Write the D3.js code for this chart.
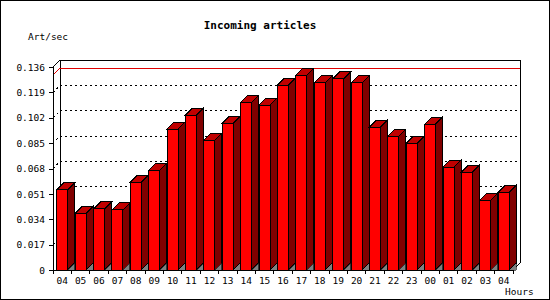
<!DOCTYPE html>
<html>
<head>
<meta charset="utf-8">
<title>Incoming articles</title>
<script src="https://d3js.org/d3.v7.min.js"></script>
<style>
    body { margin: 0; background: #fff; }
    svg { display: block; }
    text { font-family: "DejaVu Sans Mono", monospace; font-size: 9.5px; fill: #000; }
    .title { font-weight: bold; font-size: 11px; }
</style>
</head>
<body>
<div id="chart"></div>
<script>
// Data
var hours = ["04","05","06","07","08","09","10","11","12","13","14","15","16",
             "17","18","19","20","21","22","23","00","01","02","03","04"];
var artPerSec = [0.0537, 0.0380, 0.0409, 0.0403, 0.0588, 0.0669, 0.0944, 0.1038,
                 0.0870, 0.0984, 0.1125, 0.1105, 0.1239, 0.1306, 0.1253, 0.1280,
                 0.1253, 0.0957, 0.0897, 0.0850, 0.0978, 0.0689, 0.0656, 0.0468, 0.0521];
var yTicks = [0, 0.017, 0.034, 0.051, 0.068, 0.085, 0.102, 0.119, 0.136];

var width = 550, height = 300;
var margin = {top: 67, right: 37, bottom: 30, left: 53};
var depth = 7;
var x0 = margin.left, x1 = width - margin.right;
var y0 = height - margin.bottom, y1 = margin.top;

var x = d3.scaleBand().domain(d3.range(hours.length)).range([x0, x1]);
var y = d3.scaleLinear().domain([0, d3.max(yTicks)]).range([y0, y1]);

var svg = d3.select("#chart").append("svg")
    .attr("width", width).attr("height", height)
    .attr("shape-rendering", "crispEdges");

// frame
svg.append("rect").attr("x", 0.5).attr("y", 0.5)
    .attr("width", width - 1.5).attr("height", height - 1.5)
    .attr("fill", "#fff").attr("stroke", "#000");

// back plane
var back = svg.append("g");
back.append("path")
    .attr("d", "M" + x0 + "," + y1 + "L" + (x0 + depth) + "," + (y1 - depth) +
               "L" + (x1 + depth) + "," + (y1 - depth) + "L" + (x1 + depth) + "," + (y0 - depth) +
               "L" + x1 + "," + y0)
    .attr("fill", "none").attr("stroke", "#000");
back.append("line")
    .attr("x1", x0 + depth).attr("x2", x0 + depth)
    .attr("y1", y1 - depth).attr("y2", y0 - depth)
    .attr("stroke", "#000");

// grid lines (dotted) on the back plane
back.selectAll(".grid").data(yTicks.slice(1, -1)).enter().append("path")
    .attr("class", "grid")
    .attr("d", function(d) {
        return "M" + x0 + "," + y(d) + "L" + (x0 + depth) + "," + (y(d) - depth) +
               "L" + (x1 + depth) + "," + (y(d) - depth);
    })
    .attr("fill", "none").attr("stroke", "#000")
    .attr("stroke-dasharray", "2,3");

// max line
var vmax = d3.max(artPerSec);
back.append("path")
    .attr("d", "M" + x0 + "," + y(vmax) + "L" + (x0 + depth) + "," + (y(vmax) - depth) +
               "L" + (x1 + depth) + "," + (y(vmax) - depth))
    .attr("fill", "none").attr("stroke", "#e00000");

// bars
var fw = 11;
var bars = svg.append("g").selectAll("g").data(artPerSec).enter().append("g");
function fl(i) { return x(i) + (x.bandwidth() - fw) / 2; }
bars.append("rect")
    .attr("x", function(d, i) { return fl(i); })
    .attr("y", function(d) { return y(d); })
    .attr("width", fw)
    .attr("height", function(d) { return y0 - y(d); })
    .attr("fill", "#ff0000").attr("stroke", "#000");
bars.append("path")
    .attr("d", function(d, i) {
        var a = fl(i), b = a + fw, t = y(d);
        return "M" + a + "," + t + "L" + (a + depth) + "," + (t - depth) +
               "L" + (b + depth) + "," + (t - depth) + "L" + b + "," + t + "Z";
    })
    .attr("fill", "#c00000").attr("stroke", "#000");
bars.append("path")
    .attr("d", function(d, i) {
        var b = fl(i) + fw, t = y(d);
        return "M" + b + "," + t + "L" + (b + depth) + "," + (t - depth) +
               "L" + (b + depth) + "," + (y0 - depth) + "L" + b + "," + y0 + "Z";
    })
    .attr("fill", "#800000").attr("stroke", "#000");
bars.append("path")
    .attr("d", function(d, i) {
        var b = fl(i) + fw;
        return "M" + b + "," + y0 + "L" + (b + depth) + "," + (y0 - depth) +
               "L" + (b + depth) + "," + y0 + "Z";
    })
    .attr("fill", "#808080").attr("stroke", "#000").attr("stroke-width", 0.6);

// axes
var xAxis = d3.axisBottom(x).tickSize(0).tickFormat(function(i) { return hours[i]; });
var gx = svg.append("g").attr("transform", "translate(0," + y0 + ")").call(xAxis);
gx.select(".domain").attr("d", "M" + x0 + ",0.5H" + x1);
gx.selectAll("text").attr("dy", null).attr("y", 13.5).style("font-size", "9.5px")
    .style("font-family", null);
gx.selectAll(".sep").data(d3.range(hours.length + 1)).enter().append("line")
    .attr("x1", function(i) { return x0 + i * x.step(); })
    .attr("x2", function(i) { return x0 + i * x.step(); })
    .attr("y1", 0).attr("y2", 4).attr("stroke", "#000");

var yAxis = d3.axisLeft(y).tickValues(yTicks).tickSize(4).tickPadding(4)
    .tickFormat(function(d) { return d === 0 ? "0" : d3.format(".3f")(d); });
var gy = svg.append("g").attr("transform", "translate(" + x0 + ",0)").call(yAxis);
gy.select(".domain").attr("d", "M0.5," + y0 + "V" + y1);
gy.selectAll("text").attr("dy", "0.33em").style("font-size", "9.5px").style("font-family", null);

// titles
svg.append("text").attr("class", "title").attr("x", 260).attr("y", 29)
    .attr("text-anchor", "middle").text("Incoming articles");
svg.append("text").attr("x", 28).attr("y", 40).text("Art/sec");
svg.append("text").attr("x", 505).attr("y", 295).text("Hours");
</script>
</body>
</html>
